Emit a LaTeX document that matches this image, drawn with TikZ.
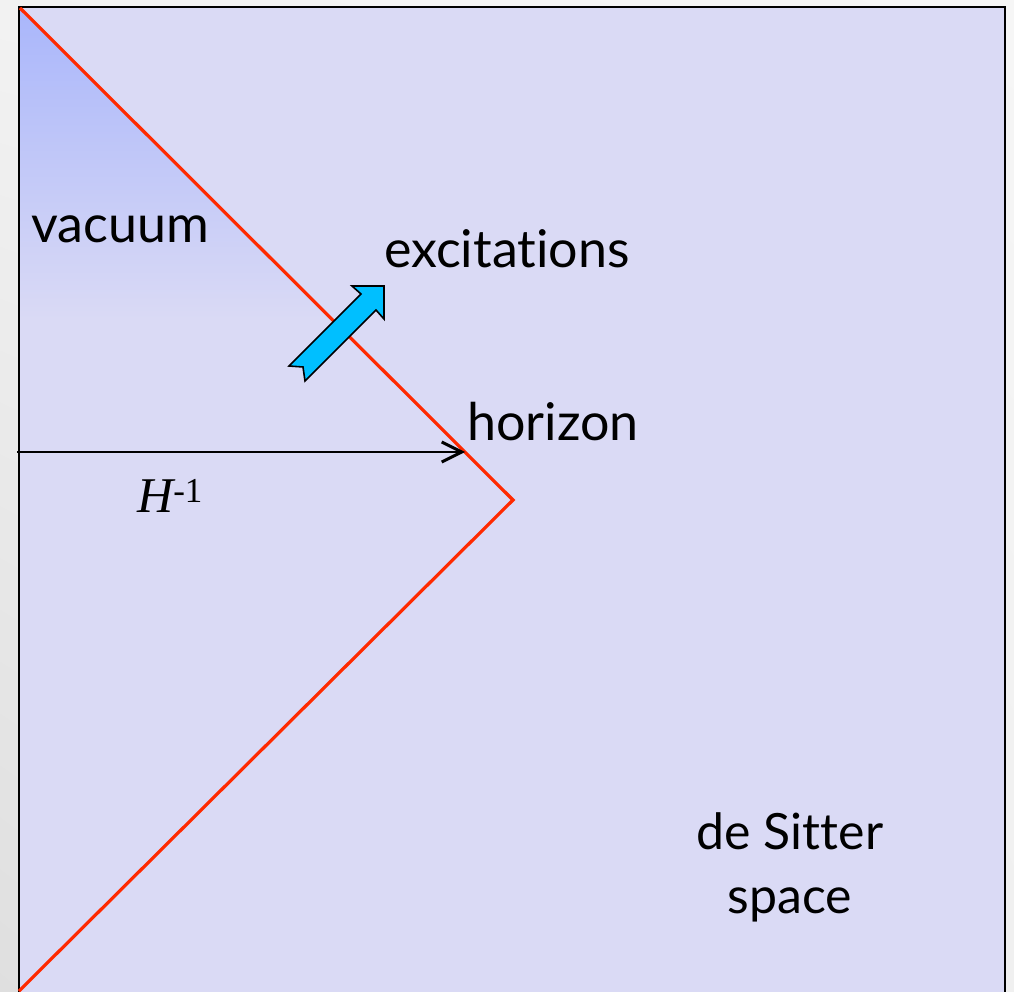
\documentclass[tikz,border=0pt]{standalone}
\usepackage{fontspec}
\setmainfont{Lato}[Ligatures=NoCommon]
\newfontfamily\serifit{Liberation Serif}
\usetikzlibrary{positioning,arrows.meta,shadings}
\definecolor{spacefill}{HTML}{DADAF5}
\definecolor{vacfill}{HTML}{A9B6FB}
\definecolor{horizred}{HTML}{FF2A00}
\definecolor{kickcyan}{HTML}{00BFFF}

\begin{document}
\begin{tikzpicture}[x=1pt, y=-1pt,
        word/.style={inner sep=0pt, anchor=base west, font=\fontsize{52}{64}\selectfont},
        horizonline/.style={draw=horizred, line width=3.2pt, line join=miter},
        radius/.style={line width=1.6pt, -{Straight Barb[length=20pt, width=20pt, line width=3pt]}},
        kick/.style={fill=kickcyan, draw=black, line width=1.6pt, line join=miter}
    ]
        \useasboundingbox (0,0) rectangle (1014,992);
        % Page background
        \shade[upper left=gray!10, upper right=gray!7, lower left=gray!25, lower right=gray!12] (0,0) rectangle (1014,992);

        % Diagram box
        \filldraw[fill=spacefill, draw=black, line width=2pt] (19,7) rectangle (1005,1000);

        % Corner points
        \coordinate (top) at (20,8);
        \coordinate (apex) at (513,500);
        \coordinate (bot) at (19,991);

        % Vacuum region
        \begin{scope}
            \clip (top) -- (apex) -- (20,500) -- cycle;
            \shade[top color=vacfill, bottom color=spacefill] (19,7) rectangle (520,320);
        \end{scope}

        % Horizon
        \draw[horizonline] (top) -- (apex) -- (bot);

        % Radius arrow
        \coordinate (rstart) at (17,452);
        \coordinate (rend) at (465,452);
        \draw[radius] (rstart) -- (rend);
        \node[inner sep=0pt, anchor=base west, font=\serifit\fontsize{50}{54}\selectfont] (hinv) at (137,512) {\itshape H\textsuperscript{\upshape -1}};

        % Excitation arrow
        \draw[kick] (384,286) -- (352,286) -- (361,294) -- (289,366) -- (303,367)
            -- (305,381) -- (376,310) -- (384,319) -- cycle;

        % Labels
        \node[word] (vacuum) at (31,243) {vacuum};
        \node[word] (excit) at (384,268) {excitations};
        \node[word] (horizon) at (467,440) {horizon};
        \node[word, anchor=base, align=center, font=\fontsize{50}{64}\selectfont] (desitter) at (790,913) {de Sitter\\space};
\end{tikzpicture}
\end{document}
